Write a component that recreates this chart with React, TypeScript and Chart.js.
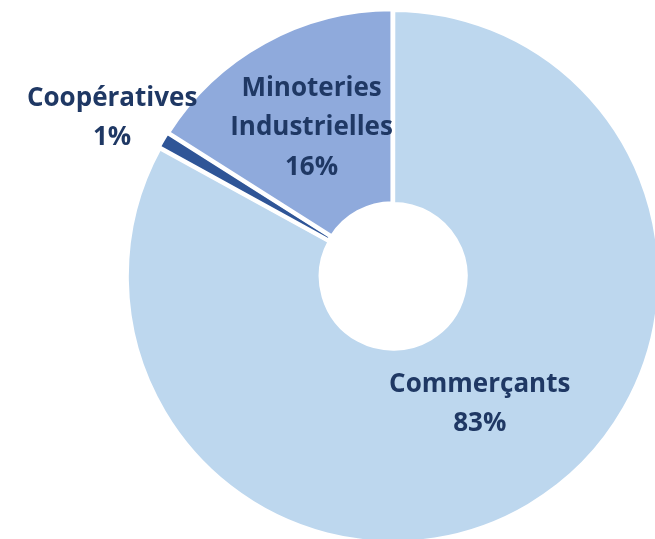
import React, { useEffect, useRef } from "react";
import { Chart, registerables } from "chart.js";

Chart.register(...registerables);

const categories = ["Commerçants", "Coopératives", "Minoteries\nIndustrielles"];
const values = [83, 1, 16];
const percentLabels = ["83%", "1%", "16%"];
const colors = ["#BDD7EE", "#2F5597", "#8FAADC"];
// label placement (fraction of ring thickness, angle nudge in degrees)
const labelRadiusFactor = [0.43, 1.29, 0.5];
const labelAngleNudge = [-3.5, -1.3, 0];

const labelPlugin = {
  id: "sliceLabels",
  afterDatasetsDraw(chart: any) {
    const ctx = chart.ctx;
    const meta = chart.getDatasetMeta(0);
    ctx.save();
    ctx.fillStyle = "#1F3864";
    ctx.font = 'bold 26px "Open Sans"';
    ctx.textAlign = "center";
    ctx.textBaseline = "middle";
    meta.data.forEach((arc: any, i: number) => {
      const p = arc.getProps(["x", "y", "startAngle", "endAngle", "innerRadius", "outerRadius"], true);
      const mid = (p.startAngle + p.endAngle) / 2 + (labelAngleNudge[i] * Math.PI) / 180;
      const r = p.innerRadius + labelRadiusFactor[i] * (p.outerRadius - p.innerRadius);
      const cx = p.x + r * Math.cos(mid);
      const cy = p.y + r * Math.sin(mid);
      const lines = [...categories[i].split("\n"), percentLabels[i]];
      const lh = 39.5;
      const top = cy - ((lines.length - 1) * lh) / 2;
      lines.forEach((ln, k) => ctx.fillText(ln, cx, top + k * lh));
    });
    ctx.restore();
  },
};

export default function App() {
  const ref = useRef<HTMLCanvasElement>(null);
  useEffect(() => {
    if (!ref.current) return;
    const chart = new Chart(ref.current, {
      type: "doughnut",
      data: {
        labels: categories,
        datasets: [
          {
            data: values,
            backgroundColor: colors,
            borderColor: "#FFFFFF",
            borderWidth: 4,
            offset: 3,
            hoverOffset: 0,
          },
        ],
      },
      options: {
        animation: false,
        responsive: true,
        maintainAspectRatio: false,
        cutout: "27%",
        radius: 265.6,
        layout: { padding: { left: 130.6, right: 0, top: 12.4, bottom: 0 } },
        plugins: { legend: { display: false }, tooltip: { enabled: false } },
      },
      plugins: [labelPlugin],
    });
    return () => chart.destroy();
  }, []);
  return (
    <div style={{ position: "absolute", left: 0, top: 0, width: 655, height: 539, background: "#FFFFFF" }}>
      <canvas ref={ref} style={{ display: "block" }} />
    </div>
  );
}
